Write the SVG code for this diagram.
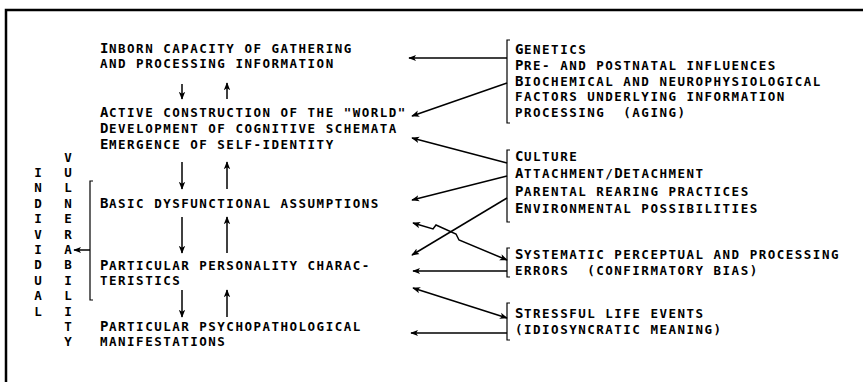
<svg xmlns="http://www.w3.org/2000/svg" width="863" height="382" viewBox="0 0 863 382">
<style>
.t{font-family:"DejaVu Sans Mono","Liberation Mono",monospace;font-weight:bold;font-size:12.5px;letter-spacing:1.5px;fill:#000}
.c{font-size:14px;letter-spacing:0.6px}
.v{font-family:"DejaVu Sans Mono","Liberation Mono",monospace;font-weight:bold;font-size:12.5px;fill:#000;text-anchor:middle}
.ln{fill:none;stroke:#000;stroke-width:1.5}
.br{fill:none;stroke:#000;stroke-width:1.2}
.fr{fill:none;stroke:#000;stroke-width:2.5}
</style>
<defs>
<marker id="ah" viewBox="0 0 10 10" refX="9" refY="5" markerWidth="8" markerHeight="8" markerUnits="userSpaceOnUse" orient="auto-start-reverse">
<path d="M0,1 L10,5 L0,9 L2.5,5 z" fill="#000"/>
</marker>
</defs>
<rect width="863" height="382" fill="#fff"/>
<path class="fr" d="M6,382 L6,10 L863,10"/>

<g id="n-inborn">
<text class="t" x="100" y="53"><tspan class="c">I</tspan>NBORN CAPACITY OF GATHERING</text>
<text class="t" x="100" y="68">AND PROCESSING INFORMATION</text>
</g>
<g id="n-active">
<text class="t" x="100" y="117"><tspan class="c">A</tspan>CTIVE CONSTRUCTION OF THE "WORLD"</text>
<text class="t" x="100" y="133"><tspan class="c">D</tspan>EVELOPMENT OF COGNITIVE SCHEMATA</text>
<text class="t" x="100" y="149"><tspan class="c">E</tspan>MERGENCE OF SELF-IDENTITY</text>
</g>
<g id="n-basic">
<text class="t" x="100" y="208"><tspan class="c">B</tspan>ASIC DYSFUNCTIONAL ASSUMPTIONS</text>
</g>
<g id="n-personality">
<text class="t" x="100" y="270"><tspan class="c">P</tspan>ARTICULAR PERSONALITY CHARAC-</text>
<text class="t" x="100" y="285">TERISTICS</text>
</g>
<g id="n-psycho">
<text class="t" x="100" y="331"><tspan class="c">P</tspan>ARTICULAR PSYCHOPATHOLOGICAL</text>
<text class="t" x="100" y="346">MANIFESTATIONS</text>
</g>

<g id="n-genetics">
<path class="br" d="M510,40 L507,40 L507,123 L510,123"/>
<text class="t" x="515" y="54"><tspan class="c">G</tspan>ENETICS</text>
<text class="t" x="515" y="70"><tspan class="c">P</tspan>RE- AND POSTNATAL INFLUENCES</text>
<text class="t" x="515" y="86"><tspan class="c">B</tspan>IOCHEMICAL AND NEUROPHYSIOLOGICAL</text>
<text class="t" x="515" y="101">FACTORS UNDERLYING INFORMATION</text>
<text class="t" x="515" y="117">PROCESSING&#160; (AGING)</text>
</g>
<g id="n-culture">
<path class="br" d="M510,150 L507,150 L507,222 L510,222"/>
<text class="t" x="515" y="161"><tspan class="c">C</tspan>ULTURE</text>
<text class="t" x="515" y="178"><tspan class="c">A</tspan>TTACHMENT/<tspan class="c">D</tspan>ETACHMENT</text>
<text class="t" x="515" y="196"><tspan class="c">P</tspan>ARENTAL REARING PRACTICES</text>
<text class="t" x="515" y="213"><tspan class="c">E</tspan>NVIRONMENTAL POSSIBILITIES</text>
</g>
<g id="n-errors">
<path class="br" d="M510,248 L507,248 L507,277 L510,277"/>
<text class="t" x="515" y="259"><tspan class="c">S</tspan>YSTEMATIC PERCEPTUAL AND PROCESSING</text>
<text class="t" x="515" y="275">ERRORS&#160; (CONFIRMATORY BIAS)</text>
</g>
<g id="n-stress">
<path class="br" d="M510,303 L507,303 L507,340 L510,340"/>
<text class="t" x="515" y="318"><tspan class="c">S</tspan>TRESSFUL LIFE EVENTS</text>
<text class="t" x="515" y="334">(IDIOSYNCRATIC MEANING)</text>
</g>

<g id="n-vulnerability">
<text class="v" x="38" y="177">I</text>
<text class="v" x="38" y="192.4">N</text>
<text class="v" x="38" y="207.8">D</text>
<text class="v" x="38" y="223.2">I</text>
<text class="v" x="38" y="238.6">V</text>
<text class="v" x="38" y="254">I</text>
<text class="v" x="38" y="269.4">D</text>
<text class="v" x="38" y="284.8">U</text>
<text class="v" x="38" y="300.2">A</text>
<text class="v" x="38" y="315.6">L</text>
<text class="v" x="68" y="161.6">V</text>
<text class="v" x="68" y="177">U</text>
<text class="v" x="68" y="192.4">L</text>
<text class="v" x="68" y="207.8">N</text>
<text class="v" x="68" y="223.2">E</text>
<text class="v" x="68" y="238.6">R</text>
<text class="v" x="68" y="254">A</text>
<text class="v" x="68" y="269.4">B</text>
<text class="v" x="68" y="284.8">I</text>
<text class="v" x="68" y="300.2">L</text>
<text class="v" x="68" y="315.6">I</text>
<text class="v" x="68" y="331">T</text>
<text class="v" x="68" y="346.4">Y</text>
<path class="br" d="M93,181 L90,181 L90,300 L93,300"/>
</g>

<g id="connectors">
<path class="ln" d="M90,250 L74,250" marker-end="url(#ah)"/>
<path class="ln" d="M182,84 L182,99" marker-end="url(#ah)"/>
<path class="ln" d="M227,99 L227,83" marker-end="url(#ah)"/>
<path class="ln" d="M182,162 L182,189" marker-end="url(#ah)"/>
<path class="ln" d="M227,189 L227,162" marker-end="url(#ah)"/>
<path class="ln" d="M182,217 L182,253" marker-end="url(#ah)"/>
<path class="ln" d="M227,253 L227,217" marker-end="url(#ah)"/>
<path class="ln" d="M182,290 L182,317" marker-end="url(#ah)"/>
<path class="ln" d="M227,317 L227,290" marker-end="url(#ah)"/>
<path class="ln" d="M507,58 L409,58" marker-end="url(#ah)"/>
<path class="ln" d="M507,83 L412,116" marker-end="url(#ah)"/>
<path class="ln" d="M507,163 L412,138" marker-end="url(#ah)"/>
<path class="ln" d="M507,176 L412,200" marker-end="url(#ah)"/>
<path class="ln" d="M507,198 L412,255" marker-end="url(#ah)"/>
<path class="ln" d="M413,223 L433,229 L436,225 L456,234 L459,240 L507,260" marker-start="url(#ah)" marker-end="url(#ah)"/>
<path class="ln" d="M507,271 L413,271" marker-end="url(#ah)"/>
<path class="ln" d="M413,288 L507,318" marker-start="url(#ah)" marker-end="url(#ah)"/>
<path class="ln" d="M507,333 L411,333" marker-end="url(#ah)"/>
</g>
</svg>
